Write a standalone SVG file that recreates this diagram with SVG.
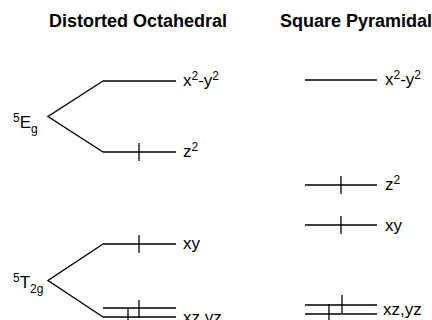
<svg xmlns="http://www.w3.org/2000/svg" width="432" height="320" viewBox="0 0 432 320">
<style>
.title{font-family:"Liberation Sans",Arial,sans-serif;font-size:18px;font-weight:bold;fill:#000}
.lab{font-family:"Liberation Sans",Arial,sans-serif;font-size:17px;fill:#000}
.sm{font-size:12px}
.lv{stroke:#000;stroke-width:1.4;fill:none}
.tk{stroke:#000;stroke-width:1.3;fill:none}
</style>
<rect width="432" height="320" fill="#fff"/>
<text class="title" x="49" y="27">Distorted Octahedral</text>
<text class="title" x="280" y="27">Square Pyramidal</text>

<g id="Eg">
<text class="lab" x="13" y="128"><tspan class="sm" dy="-6">5</tspan><tspan dy="6">E</tspan><tspan class="sm" dy="5">g</tspan></text>
</g>
<g id="T2g">
<text class="lab" x="13" y="288"><tspan class="sm" dy="-6">5</tspan><tspan dy="6">T</tspan><tspan class="sm" dy="5">2g</tspan></text>
</g>

<g id="oct-x2y2">
<line class="lv" x1="103" y1="81" x2="176" y2="81"/>
<text class="lab" x="183" y="86">x<tspan class="sm" dy="-6">2</tspan><tspan dy="6">-y</tspan><tspan class="sm" dy="-6">2</tspan></text>
</g>
<g id="oct-z2">
<line class="lv" x1="103" y1="152" x2="176" y2="152"/>
<line class="tk" x1="139" y1="143" x2="139" y2="161"/>
<text class="lab" x="183" y="157">z<tspan class="sm" dy="-6">2</tspan></text>
</g>
<g id="oct-xy">
<line class="lv" x1="103" y1="244" x2="176" y2="244"/>
<line class="tk" x1="139" y1="235" x2="139" y2="253"/>
<text class="lab" x="183" y="249">xy</text>
</g>
<g id="oct-xzyz">
<line class="lv" x1="103" y1="308" x2="176" y2="308"/>
<line class="lv" x1="103" y1="317" x2="176" y2="317"/>
<line class="tk" x1="139" y1="300" x2="139" y2="318"/>
<line class="tk" x1="128" y1="309" x2="128" y2="327"/>
<text class="lab" x="183" y="323">xz,yz</text>
</g>

<g id="sp-x2y2">
<line class="lv" x1="305" y1="80" x2="377" y2="80"/>
<text class="lab" x="385" y="85">x<tspan class="sm" dy="-6">2</tspan><tspan dy="6">-y</tspan><tspan class="sm" dy="-6">2</tspan></text>
</g>
<g id="sp-z2">
<line class="lv" x1="305" y1="185" x2="377" y2="185"/>
<line class="tk" x1="341" y1="176" x2="341" y2="194"/>
<text class="lab" x="385" y="190">z<tspan class="sm" dy="-6">2</tspan></text>
</g>
<g id="sp-xy">
<line class="lv" x1="305" y1="225" x2="377" y2="225"/>
<line class="tk" x1="341" y1="216" x2="341" y2="234"/>
<text class="lab" x="385" y="231">xy</text>
</g>
<g id="sp-xzyz">
<line class="lv" x1="305" y1="305" x2="377" y2="305"/>
<line class="lv" x1="305" y1="314" x2="377" y2="314"/>
<line class="tk" x1="342" y1="295" x2="342" y2="313"/>
<line class="tk" x1="329" y1="304" x2="329" y2="322"/>
<text class="lab" x="383" y="315">xz,yz</text>
</g>

<g id="connectors">
<polyline class="lv" points="103,81 48,116.5 103,152"/>
<polyline class="lv" points="103,244 48,280.5 103,317"/>
</g>
</svg>
